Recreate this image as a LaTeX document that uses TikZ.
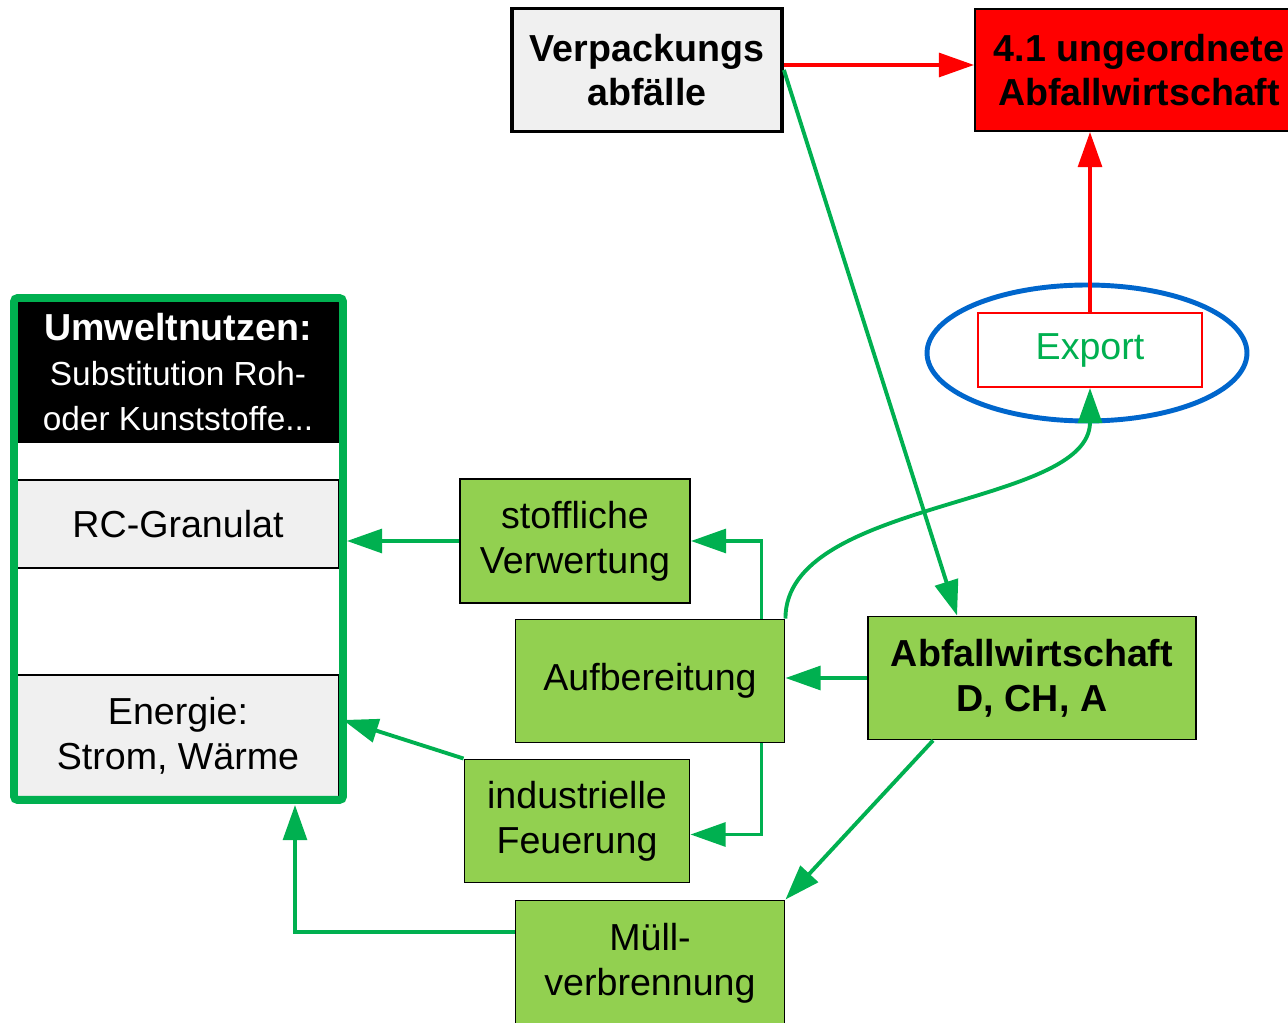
\documentclass[tikz,border=0pt]{standalone}
\usepackage{fontspec}
\setmainfont{Liberation Sans}
\usetikzlibrary{positioning,arrows.meta,shapes.geometric}
\definecolor{flowgreen}{HTML}{00B050}
\definecolor{boxgreen}{HTML}{92D050}
\definecolor{boxgray}{HTML}{F0F0F0}
\definecolor{ringblue}{HTML}{0066CC}
\newcommand{\bigtext}{\fontsize{21.4}{25.5}\selectfont}
\newcommand{\headtext}{\fontsize{19}{23}\selectfont}

\begin{document}
\begin{tikzpicture}[x=0.02cm, y=-0.02cm,
  every node/.style={font=\bigtext, align=center, inner sep=0pt},
  greenbox/.style={draw, rectangle, line width=1.1pt, fill=boxgreen},
  rowbox/.style={draw, rectangle, line width=1.1pt, minimum width=6.42cm},
  flow/.style={draw=flowgreen, line width=2.2pt, -{Triangle[length=20pt, width=13.5pt]}},
  redflow/.style={draw=red, line width=2.2pt, -{Triangle[length=20pt, width=13.5pt]}}]
  \useasboundingbox (0,0) rectangle (1288,1023);
  \clip (0,0) rectangle (1288,1023);

  % sources at the top
  \node[draw, rectangle, line width=2.2pt, fill=boxgray, minimum width=5.4cm, minimum height=2.46cm, font=\bigtext\bfseries] (verp) at (647,70) {Verpackungs\\abfälle};
  \node[draw, rectangle, line width=1.1pt, fill=red, minimum width=6.56cm, minimum height=2.44cm, font=\bigtext\bfseries] (ungeord) at (1139,70) {4.1 ungeordnete\\Abfallwirtschaft};

  % export
  \node[draw=ringblue, ellipse, line width=2.8pt, minimum width=6.4cm, minimum height=2.72cm] (ring) at (1087,353) {};
  \node[draw=red, rectangle, line width=1.1pt, fill=white, text=flowgreen, minimum width=4.48cm, minimum height=1.48cm] (export) at (1090,350) {Export};

  % treatment chain
  \node[greenbox, minimum width=6.56cm, minimum height=2.46cm, font=\bigtext\bfseries] (abfall) at (1032,678) {Abfallwirtschaft\\D, CH, A};
  \node[greenbox, minimum width=5.38cm, minimum height=2.46cm] (aufb) at (650,681) {Aufbereitung};
  \node[greenbox, minimum width=4.6cm, minimum height=2.48cm] (stoff) at (575,541) {stoffliche\\Verwertung};
  \node[greenbox, minimum width=4.5cm, minimum height=2.46cm] (indus) at (577,821) {industrielle\\Feuerung};
  \node[greenbox, minimum width=5.38cm, minimum height=2.5cm] (muell) at (650,963) {Müll-\\verbrennung};

  % benefit column
  \node[rowbox, fill=black, text=white, minimum height=2.8cm] (umwelt) at (178,372) {{\bfseries Umweltnutzen:}\\{\headtext Substitution Roh-}\\{\headtext oder Kunststoffe...}};
  \node[rowbox, fill=boxgray, minimum height=1.76cm] (granulat) at (178,524) {RC-Granulat};
  \node[rowbox, fill=boxgray, minimum height=2.44cm] (energie) at (178,736) {Energie:\\Strom, Wärme};
  \node[draw=flowgreen, rectangle, line width=4.5pt, rounded corners=2pt, minimum width=6.58cm, minimum height=10.04cm] (nutzen) at (178.5,549) {};
  \coordinate (energiein) at (343,720);
  \coordinate (nutzenfoot) at (295,805);

  % connectors
  \draw[redflow] ([yshift=0.1cm]verp.east) -- ([yshift=0.1cm]ungeord.west);
  \draw[redflow] (export.north) -- (export.north |- ungeord.south);
  \draw[flow] (verp.east) -- ([xshift=1.8cm]abfall.north west);
  \draw[flow] (aufb.north east) .. controls +(0,-120) and +(0,120) .. (export.south);
  \draw[flow] (abfall.west) -- (abfall.west -| aufb.east);
  \draw[flow] ([xshift=-0.48cm]aufb.north east) |- (stoff.east);
  \draw[flow] ([xshift=-0.48cm]aufb.south east) |- ([yshift=-0.27cm]indus.east);
  \draw[flow] (stoff.west) -- (stoff.west -| nutzen.east);
  \draw[flow] (indus.north west) -- (energiein);
  \draw[flow] ([xshift=1.32cm]abfall.south west) -- (muell.north east);
  \draw[flow] ([yshift=0.62cm]muell.west) -| (nutzenfoot);
\end{tikzpicture}
\end{document}
